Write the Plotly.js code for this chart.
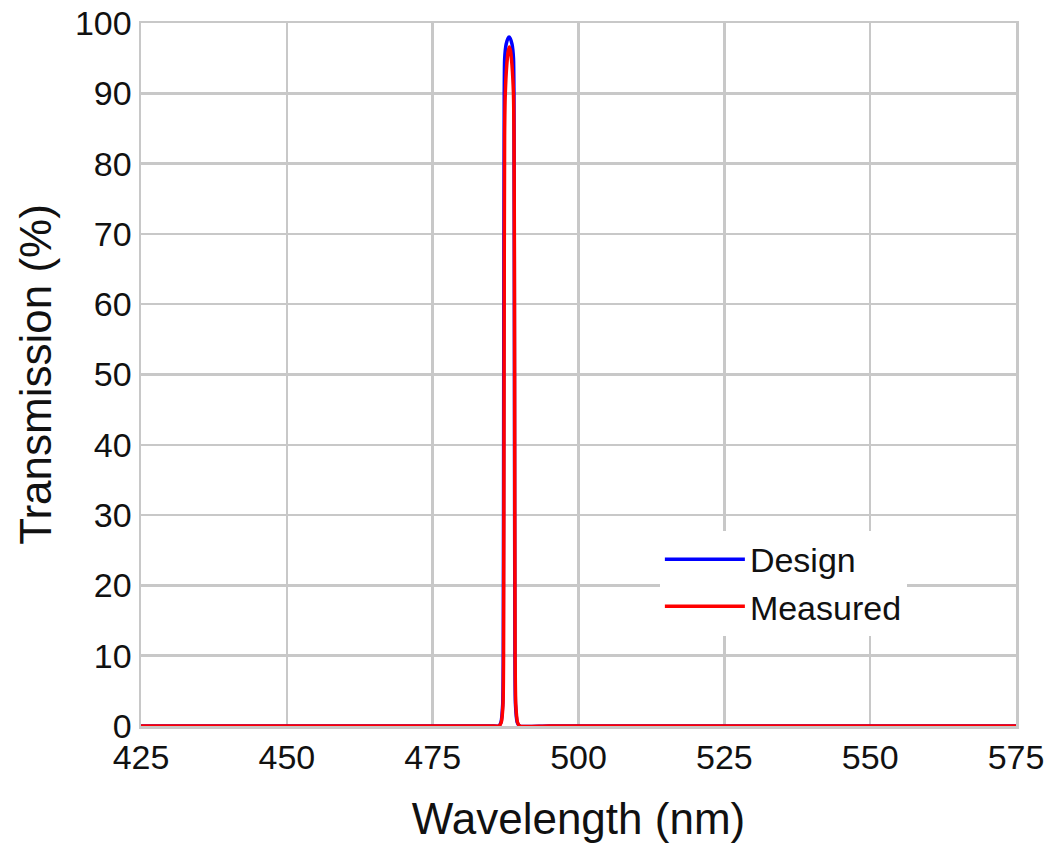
<!DOCTYPE html>
<html>
<head>
<meta charset="utf-8">
<script src="https://cdn.plot.ly/plotly-3.0.1.min.js"></script>
<style>html,body{margin:0;padding:0;background:#fff;}#chart{width:1047px;height:843px;}</style>
</head>
<body>
<div id="chart"></div>
<script>
// Wavelength (nm) and transmission (%) values
const designWavelength = [425, 470, 485, 486.3, 486.7, 487.0, 487.1, 487.18, 487.27, 487.35, 487.6, 487.9, 488.1, 488.3, 488.6, 488.85, 488.93, 489.02, 489.1, 489.2, 489.5, 489.9, 495, 530, 575];
const designTransmission = [0, 0, 0, 0, 0.5, 3, 10, 50, 90, 95, 97, 97.8, 98, 97.8, 97, 95, 90, 50, 10, 3, 0.5, 0, 0, 0, 0];
const measuredWavelength = [425, 470, 485, 486.35, 486.75, 487.05, 487.15, 487.24, 487.33, 487.45, 487.7, 487.95, 488.15, 488.35, 488.6, 488.85, 488.95, 489.05, 489.13, 489.25, 489.55, 489.95, 495, 530, 575];
const measuredTransmission = [0, 0, 0, 0, 0.5, 3, 10, 50, 84, 90, 94, 96, 96.6, 96, 94, 90, 84, 50, 10, 3, 0.5, 0, 0, 0, 0];
const xTicks = [425, 450, 475, 500, 525, 550, 575];
const yTicks = [0, 10, 20, 30, 40, 50, 60, 70, 80, 90, 100];
const seriesNames = ["Design", "Measured"];

const font = "Liberation Sans, Arial, sans-serif";
const traces = [
  {x: designWavelength, y: designTransmission, name: seriesNames[0], type: "scatter", mode: "lines",
   line: {color: "#0000ff", width: 3.5, shape: "spline", smoothing: 0.6}},
  {x: measuredWavelength, y: measuredTransmission, name: seriesNames[1], type: "scatter", mode: "lines",
   line: {color: "#ff0000", width: 3.5, shape: "spline", smoothing: 0.6}}
];
const layout = {
  width: 1047, height: 843,
  margin: {l: 141, r: 31, t: 23, b: 117},
  paper_bgcolor: "#ffffff", plot_bgcolor: "#ffffff",
  font: {family: font, size: 34, color: "#111111"},
  showlegend: true,
  legend: {x: 0.593, y: 0.278, xanchor: "left", yanchor: "top", bgcolor: "#ffffff",
           font: {family: font, size: 34, color: "#111111"}, itemwidth: 80, tracegroupgap: 0},
  xaxis: {range: [425, 575], tickvals: xTicks, ticktext: xTicks.map(String), showgrid: true,
          gridcolor: "#c8c8c8", gridwidth: 2.5, showline: true, linecolor: "#c8c8c8", linewidth: 2.5, mirror: true,
          zeroline: false, ticks: "", ticklen: 0, tickfont: {family: font, size: 34, color: "#111111"},
          title: {text: "Wavelength (nm)", font: {family: font, size: 44, color: "#111111"}, standoff: 28}},
  yaxis: {range: [0, 100], tickvals: yTicks, ticktext: yTicks.map(String), showgrid: true,
          gridcolor: "#c8c8c8", gridwidth: 2.5, showline: true, linecolor: "#c8c8c8", linewidth: 2.5, mirror: true,
          zeroline: false, ticks: "", ticklen: 0, tickfont: {family: font, size: 34, color: "#111111"},
          title: {text: "Transmission (%)", font: {family: font, size: 44, color: "#111111"}, standoff: 10}}
};
Plotly.newPlot("chart", traces, layout, {displayModeBar: false, staticPlot: true});
</script>
</body>
</html>
